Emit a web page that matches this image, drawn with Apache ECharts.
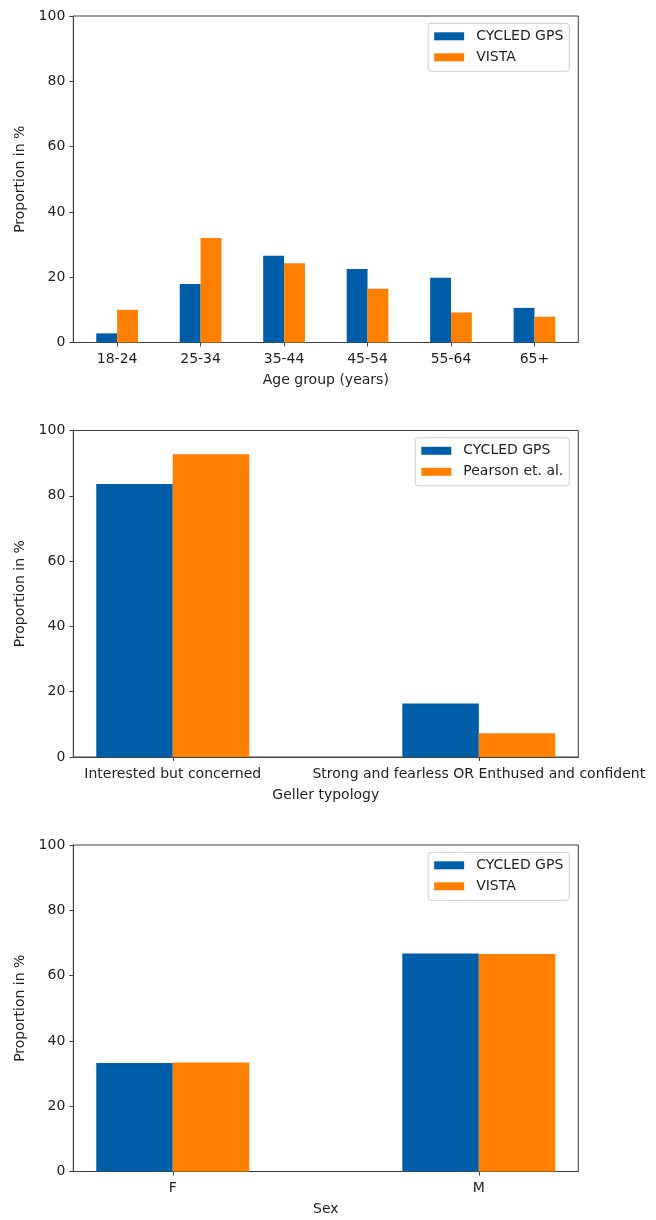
<!DOCTYPE html>
<html>
<head>
<meta charset="utf-8">
<script src="https://cdn.jsdelivr.net/npm/echarts@6/dist/echarts.min.js"></script>
<style>
  html, body { margin: 0; padding: 0; background: #fff; }
  #chart { width: 656px; height: 1220px; }
</style>
</head>
<body>
<div id="chart"></div>
<script>
// Age groups
const ageGroups = ['18-24', '25-34', '35-44', '45-54', '55-64', '65+'];
const ageCycled = [2.8, 17.9, 26.6, 22.5, 19.8, 10.6];
const ageVista = [10.0, 32.0, 24.3, 16.5, 9.2, 7.9];

// Geller typology
const typologies = ['Interested but concerned', 'Strong and fearless OR Enthused and confident'];
const typCycled = [83.6, 16.4];
const typPearson = [92.7, 7.3];

// Sex
const sexes = ['F', 'M'];
const sexCycled = [33.2, 66.8];
const sexVista = [33.4, 66.6];

const panels = [
  { cats: ageGroups, xName: 'Age group (years)', series: [['CYCLED GPS', ageCycled], ['VISTA', ageVista]], top: 16 },
  { cats: typologies, xName: 'Geller typology', series: [['CYCLED GPS', typCycled], ['Pearson et. al.', typPearson]], top: 430.5 },
  { cats: sexes, xName: 'Sex', series: [['CYCLED GPS', sexCycled], ['VISTA', sexVista]], top: 845 }
];

const BLUE = '#005ea8';
const ORANGE = '#ff7f00';
const FONT = 'DejaVu Sans';
const TEXT = '#1f1f1f';
const AXIS = '#404040';
const PLOT_LEFT = 73.3, PLOT_W = 505, PLOT_H = 326.5;

const grid = [], xAxis = [], yAxis = [], series = [], legend = [];

panels.forEach((p, gi) => {
  grid.push({
    left: PLOT_LEFT, top: p.top, width: PLOT_W, height: PLOT_H,
    show: true, borderColor: AXIS, borderWidth: 1, backgroundColor: '#fff'
  });
  // bars span from -0.25 to n-0.75 with 5% margins on each side
  const lo = -0.25, hi = p.cats.length - 1 + 0.25, pad = (hi - lo) * 0.05;
  const idx = p.cats.map((c, i) => i);
  xAxis.push({
    type: 'value', gridIndex: gi, min: lo - pad, max: hi + pad,
    splitLine: { show: false },
    axisLine: { show: true, onZero: false, lineStyle: { color: AXIS, width: 1 } },
    axisTick: { show: true, inside: false, length: 4, customValues: idx, lineStyle: { color: AXIS } },
    axisLabel: {
      customValues: idx, margin: 10, fontSize: 14, fontFamily: FONT, color: TEXT,
      formatter: v => p.cats[Math.round(v)] ?? ''
    },
    name: p.xName, nameLocation: 'middle', nameGap: 31,
    nameTextStyle: { fontSize: 14, fontFamily: FONT, color: TEXT }
  });
  yAxis.push({
    type: 'value', gridIndex: gi, min: 0, max: 100, interval: 20,
    splitLine: { show: false },
    axisLine: { show: true, onZero: false, lineStyle: { color: AXIS, width: 1 } },
    axisTick: { show: true, inside: false, length: 4, lineStyle: { color: AXIS } },
    axisLabel: { margin: 8, fontSize: 14, fontFamily: FONT, color: TEXT },
    name: 'Proportion in %', nameLocation: 'middle', nameGap: 45,
    nameTextStyle: { fontSize: 14, fontFamily: FONT, color: TEXT }
  });
  p.series.forEach(([name, vals], si) => {
    series.push({
      type: 'bar', name, xAxisIndex: gi, yAxisIndex: gi,
      data: vals.map((v, i) => [i, v]),
      barWidth: '25%', barGap: '0%',
      itemStyle: { color: si === 0 ? BLUE : ORANGE }
    });
  });
  legend.push({
    data: p.series.map(s => s[0]),
    orient: 'vertical', align: 'left',
    top: p.top + 7.3, right: 656 - 569.3,
    icon: 'rect', itemWidth: 30, itemHeight: 8, itemGap: 7,
    padding: [6, 6, 7, 6],
    borderColor: '#cccccc', borderWidth: 1, borderRadius: 3,
    backgroundColor: 'rgba(255,255,255,0.8)',
    selectedMode: false,
    textStyle: { fontSize: 14, fontFamily: FONT, color: TEXT, lineHeight: 14, padding: [0, 0, 0, 7] }
  });
});

const chart = echarts.init(document.getElementById('chart'), null, { renderer: 'canvas' });
chart.setOption({ animation: false, backgroundColor: '#fff', grid, xAxis, yAxis, series, legend });
</script>
</body>
</html>
